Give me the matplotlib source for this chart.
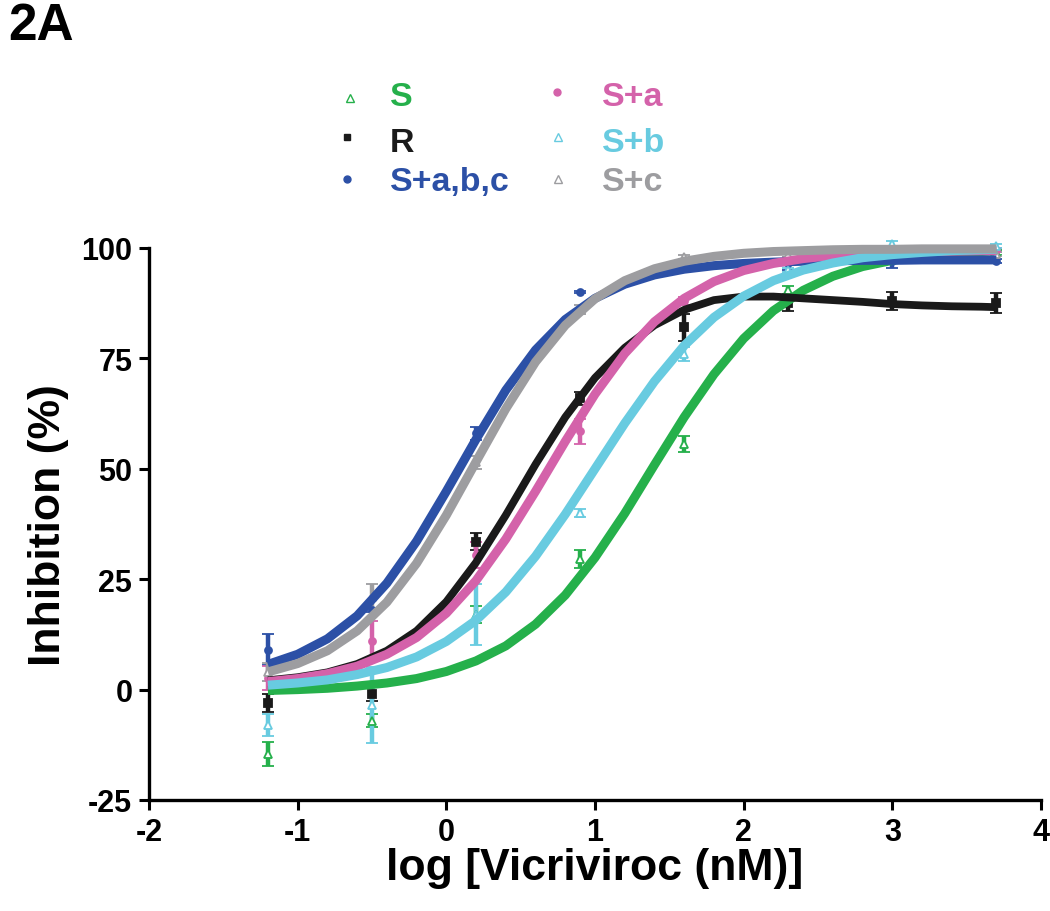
import matplotlib
matplotlib.use('Agg')
import matplotlib.pyplot as plt
from matplotlib.lines import Line2D

# measured doses (log nM) and mean inhibition (%) with error
dose = [-1.2, -0.5, 0.2, 0.9, 1.6, 2.3, 3.0, 3.7]

s_mean = [-14.5, -7.0, 17.0, 29.5, 55.7, 90.5, 98.5, 99.0]
s_err = [2.7, 1.5, 2.0, 2.0, 1.8, 1.0, 0.5, 0.5]
r_mean = [-3.0, -1.0, 33.5, 66.0, 82.0, 87.5, 88.0, 87.5]
r_err = [2.0, 1.5, 2.0, 1.5, 3.0, 1.7, 2.0, 2.2]
sabc_mean = [9.0, 18.0, 58.0, 90.0, 96.5, 96.5, 97.0, 97.0]
sabc_err = [3.5, 0.5, 1.5, 0.3, 0.5, 1.5, 1.5, 0.5]
sa_mean = [2.6, 11.0, 30.5, 58.5, 88.0, 97.0, 99.0, 99.5]
sa_err = [2.8, 4.5, 3.0, 2.8, 1.0, 0.5, 0.5, 0.5]
sb_mean = [-8.0, -3.5, 17.0, 40.0, 76.0, 95.0, 101.0, 100.5]
sb_err = [2.5, 8.7, 7.0, 1.0, 1.5, 0.5, 0.5, 0.5]
sc_mean = [4.0, 21.0, 51.5, 86.0, 98.0, 98.5, 99.0, 98.6]
sc_err = [2.0, 3.0, 1.5, 1.0, 0.5, 0.5, 0.5, 0.5]

# fitted curves
curve_x = [-1.2, -1.0, -0.8, -0.6, -0.4, -0.2, 0.0, 0.2, 0.4, 0.6, 0.8, 1.0, 1.2,
           1.4, 1.6, 1.8, 2.0, 2.2, 2.4, 2.6, 2.8, 3.0, 3.2, 3.4, 3.6, 3.7]
s_curve = [-0.2, 0.0, 0.3, 0.8, 1.5, 2.5, 4.1, 6.5, 9.9, 14.8, 21.4, 29.9, 39.9,
           50.9, 61.7, 71.4, 79.5, 85.8, 90.4, 93.6, 95.8, 97.2, 98.2, 98.8, 99.2, 99.4]
r_curve = [2.1, 2.8, 3.9, 5.8, 8.8, 13.3, 19.9, 28.8, 39.5, 51.0, 61.7, 70.6, 77.4,
           82.5, 86.0, 88.2, 89.0, 89.0, 88.6, 88.2, 87.8, 87.3, 87.0, 86.8, 86.7, 86.6]
sabc_curve = [5.7, 8.0, 11.5, 16.7, 24.1, 33.6, 44.9, 56.7, 67.8, 76.9, 83.8, 88.6, 91.8,
              93.9, 95.2, 96.0, 96.5, 96.8, 97.0, 97.1, 97.2, 97.2, 97.3, 97.3, 97.3, 97.3]
sa_curve = [1.8, 2.5, 3.6, 5.3, 8.0, 11.8, 17.3, 24.7, 34.1, 44.9, 56.2, 66.9, 76.1,
            83.3, 88.6, 92.4, 94.9, 96.5, 97.6, 98.3, 98.7, 99.0, 99.2, 99.3, 99.4, 99.4]
sb_curve = [1.0, 1.5, 2.2, 3.4, 5.0, 7.4, 10.9, 15.7, 22.1, 30.2, 39.7, 50.0, 60.3,
            69.8, 77.9, 84.3, 89.1, 92.6, 95.0, 96.6, 97.8, 98.5, 99.0, 99.4, 99.6, 99.7]
sc_curve = [4.0, 5.9, 8.8, 13.3, 19.8, 28.6, 39.5, 51.6, 63.6, 74.2, 82.5, 88.5, 92.6,
            95.3, 97.0, 98.1, 98.8, 99.2, 99.4, 99.6, 99.7, 99.7, 99.8, 99.8, 99.8, 99.8]

labels = ['S', 'R', 'S+a,b,c', 'S+a', 'S+b', 'S+c']
colors = ['#25b04b', '#1a1a1a', '#2c50a6', '#d462aa', '#68cbe0', '#9d9da0']
x_ticks = [-2, -1, 0, 1, 2, 3, 4]
y_ticks = [-25, 0, 25, 50, 75, 100]

plt.rcParams['font.family'] = ['Liberation Sans', 'DejaVu Sans']
plt.rcParams['font.weight'] = 'bold'
plt.rcParams['axes.unicode_minus'] = False

W, H = 1050, 912
fig = plt.figure(figsize=(W / 100, H / 100), dpi=100)
ax = fig.add_axes([149 / W, 1 - 801 / H, (1041 - 149) / W, (801 - 249) / H])

series = [
    (s_curve, s_mean, s_err, '^', 'white'),
    (r_curve, r_mean, r_err, 's', None),
    (sabc_curve, sabc_mean, sabc_err, 'o', None),
    (sa_curve, sa_mean, sa_err, 'o', None),
    (sb_curve, sb_mean, sb_err, '^', 'white'),
    (sc_curve, sc_mean, sc_err, '^', 'white'),
]
for (curve, mean, err, mk, mfc), col in zip(series, colors):
    ax.errorbar(dose, mean, yerr=err, fmt=mk, ms=5.5 if mk != 'o' else 5,
                mfc=mfc if mfc else col, mec=col, mew=1.3, ecolor=col,
                elinewidth=3.2, capsize=4.2, capthick=3.4, clip_on=False, zorder=2)
    ax.plot(curve_x, curve, color=col, lw=6.5 if col != '#1a1a1a' else 5.6,
            solid_capstyle='butt', solid_joinstyle='round', clip_on=False, zorder=3)

ax.set_xlim(-2, 4)
ax.set_ylim(-25, 100)
ax.set_xticks(x_ticks)
ax.set_yticks(y_ticks)
for side in ['top', 'right']:
    ax.spines[side].set_visible(False)
for side in ['left', 'bottom']:
    ax.spines[side].set_linewidth(2.4)
ax.tick_params(direction='out', length=7, width=2.2, labelsize=22, pad=5)
for lab in ax.get_xticklabels() + ax.get_yticklabels():
    lab.set_fontweight('bold')

ax.set_xlabel('log [Vicriviroc (nM)]', fontsize=32, fontweight='bold', labelpad=0)
ax.set_ylabel('Inhibition (%)', fontsize=32, fontweight='bold', labelpad=9)

# panel label
fig.text(8 / W, 1 - 40 / H, '2A', fontsize=37, fontweight='bold', va='baseline')

# legend drawn by hand in two columns
marker_pos = [(350, 99), (347, 138), (347, 180), (557, 93), (558, 138), (558, 180)]
text_pos = [(390, 106), (390, 152), (390, 191), (602, 106), (602, 152), (602, 191)]
leg_markers = ['^', 's', 'o', 'o', '^', '^']
for lab, col, (mx, my), (tx, ty), mk in zip(labels, colors, marker_pos, text_pos, leg_markers):
    open_mk = mk == '^'
    fig.add_artist(Line2D([mx / W], [1 - my / H], marker=mk, ms=6 if open_mk else 5,
                          mfc='white' if open_mk else col, mec=col, mew=1.0,
                          transform=fig.transFigure))
    fig.text(tx / W, 1 - ty / H, lab, color=col, fontsize=24.5, fontweight='bold',
             va='baseline')

fig.savefig('out.png', dpi=100)
